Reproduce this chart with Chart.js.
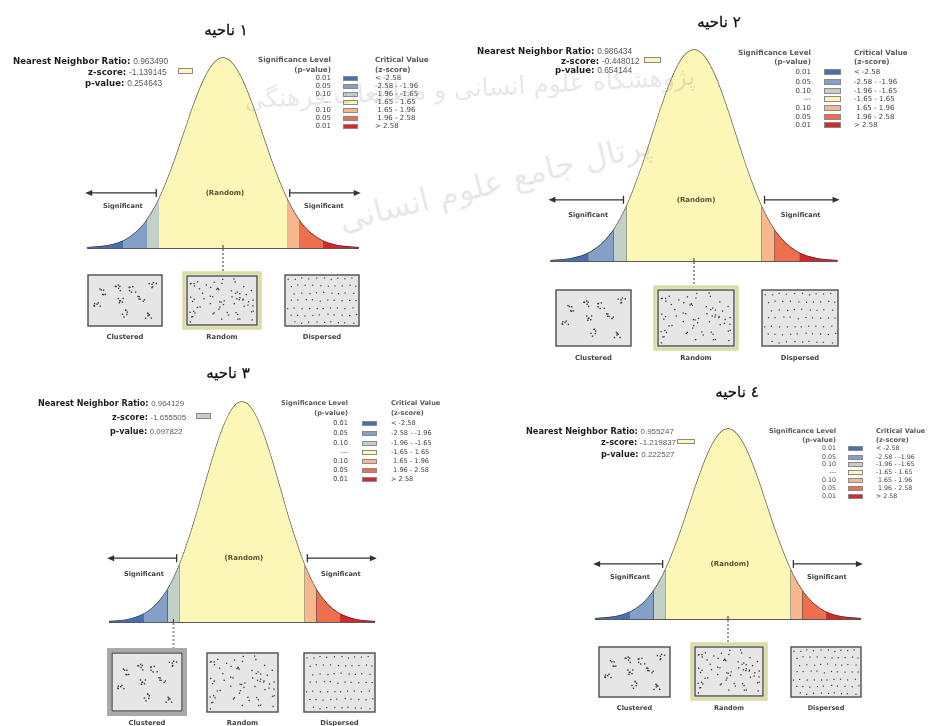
<!DOCTYPE html>
<html><head><meta charset="utf-8">
<script src="https://cdn.jsdelivr.net/npm/chart.js@4.4.1/dist/chart.umd.min.js"></script>
<style>
html,body{margin:0;padding:0;background:#fff}
#page{position:relative;width:928px;height:726px;overflow:hidden;font-family:"DejaVu Sans",sans-serif}
canvas{position:absolute}
.t{position:absolute;white-space:nowrap;line-height:1}
.ib{display:inline-block}
.sw{position:absolute;border:1px solid #8a8a8a;box-sizing:border-box}
.wm{position:absolute;white-space:nowrap;line-height:1;color:rgba(110,110,110,0.17);font-family:"DejaVu Sans",sans-serif;pointer-events:none}
</style></head><body><div id="page"></div>
<script>
function q(id){return document.getElementById(id)}

// ---- values ----
const regionTitles = ['ناحیه ١','ناحیه ٢','ناحیه ٣','ناحیه ٤'];
const nnRatios = ['0.963490','0.986434','0.964129','0.955247'];
const zScores = [-1.139145,-0.448012,-1.655505,-1.219837];
const zScoreText = ['-1.139145','-0.448012','-1.655505','-1.219837'];
const pValues = ['0.254643','0.654144','0.097822','0.222527'];

const sigLevels = ['0.01','0.05','0.10','---','0.10','0.05','0.01'];
const critValues = ['< -2.58','-2.58 - -1.96','-1.96 - -1.65','-1.65 - 1.65','\u00a01.65 - 1.96','\u00a01.96 - 2.58','> 2.58'];
const binEdges = [-3.5,-2.58,-1.96,-1.65,1.65,1.96,2.58,3.5];
const binColors = ['#4a6fb0','#85a0c8','#c3d0c8','#fcf7b6','#f8b78c','#ee6f4e','#d6272a'];
const patternNames = ['Clustered','Random','Dispersed'];

// curve (z-score, relative height) read from the bell shape
const curveZ = [-3.5,-3.25,-3,-2.75,-2.58,-2.5,-2.25,-2,-1.96,-1.8,-1.65,-1.5,-1.25,-1,-0.75,-0.5,-0.25,0,0.25,0.5,0.75,1,1.25,1.5,1.65,1.8,1.96,2,2.25,2.5,2.58,2.75,3,3.25,3.5];
const curveH = [0.002,0.005,0.011,0.023,0.036,0.044,0.080,0.135,0.146,0.198,0.256,0.325,0.458,0.607,0.755,0.882,0.969,1.000,0.969,0.882,0.755,0.607,0.458,0.325,0.256,0.198,0.146,0.135,0.080,0.044,0.036,0.023,0.011,0.005,0.002];

// ---- placement of each panel on the page ----
const layout = [
  {left:0,top:0,w:464,h:350, cx:223,unit:38.8,peakY:58,baseY:248,
   title:[226,30], statRows:[[13,61],[88,72],[85,83]], statSize:8.6, zbox:[178,69,15,6],
   legRight:331, critX:375, headY:[60,70], rowY:[78,86,94,102,110,118,126], swX:343, swW:15, swH:5, legSize:7, headSize:7.2,
   boxes:[[88,275,162,326],[187,276,257,325],[285,275,359,326]], labelY:337, labelSize:6.8},
  {left:464,top:0,w:464,h:362, cx:694,unit:41,peakY:50,baseY:261,
   title:[719,22], statRows:[[477,51],[561,61],[555,70]], statSize:8.6, zbox:[644,58,17,6],
   legRight:811, critX:854, headY:[53,62], rowY:[72,82,91,99,108,117,125], swX:824, swW:17, swH:6, legSize:7, headSize:7.2,
   boxes:[[556,290,631,346],[658,290,734,346],[762,290,838,346]], labelY:358, labelSize:6.8},
  {left:0,top:360,w:464,h:366, cx:242,unit:38,peakY:402,baseY:622,
   title:[228,373], statRows:[[38,403],[112,417],[110,431]], statSize:8.1, zbox:[196,414,15,6],
   legRight:348, critX:391, headY:[403,413], rowY:[423,433,443,452,461,470,479], swX:362, swW:15, swH:5, legSize:6.6, headSize:6.6,
   boxes:[[112,653,182,711],[207,653,278,712],[304,653,375,712]], labelY:723, labelSize:6.8},
  {left:464,top:360,w:464,h:366, cx:728,unit:38,peakY:429,baseY:619,
   title:[737,392], statRows:[[526,431],[601,442],[601,454]], statSize:8.2, zbox:[677,440,18,5],
   legRight:836, critX:876, headY:[431,440], rowY:[448,457,464,472,480,488,496], swX:848, swW:15, swH:5, legSize:6.3, headSize:6.6,
   boxes:[[599,647,670,697],[695,647,763,696],[791,647,861,697]], labelY:708, labelSize:6.5}
];

const page = q('page');

function binOf(z){
  for(let i=0;i<binColors.length;i++){ if(z>=binEdges[i] && z<binEdges[i+1]) return i; }
  return z<0 ? 0 : binColors.length-1;
}

function txt(x, y, html, css, anchor){
  const d = document.createElement('div'); d.className='t'; d.innerHTML = html;
  d.style.left = x+'px'; d.style.top = y+'px';
  const tx = anchor==='c' ? '-50%' : anchor==='r' ? '-100%' : '0';
  d.style.transform = `translate(${tx},-50%)`;
  Object.assign(d.style, css||{});
  page.appendChild(d);
  return d;
}

// small hash for the texture of the pattern icons
function hr(n){ const s = Math.sin(n*91.345+17.17)*47453.5453; return s-Math.floor(s); }
const clusterCenters = [[.15,.3],[.38,.18],[.62,.24],[.93,.1],[.45,.5],[.76,.46],[.08,.64],[.5,.82],[.88,.86]];

function drawBox(ctx,x,y,w,h,kind,hl,grayHl){
  if(hl){
    ctx.strokeStyle = grayHl ? '#a9a9a9' : '#d9dca6';
    ctx.lineWidth = grayHl ? 4 : 3.5;
    ctx.strokeRect(x-3,y-3,w+6,h+6);
  }
  ctx.fillStyle = '#e6e6e6'; ctx.fillRect(x,y,w,h);
  ctx.strokeStyle = '#4d4d4d'; ctx.lineWidth = 1.4; ctx.strokeRect(x,y,w,h);
  ctx.fillStyle = '#3c3c3c';
  const dot = (u,v,s)=>{ ctx.fillRect(x+u-s/2, y+v-s/2, s, s); };
  if(kind===0){
    clusterCenters.forEach((c,k)=>{
      for(let j=0;j<6;j++){
        const u = c[0]*(w-10)+5 + (hr(k*13+j*2)-0.5)*8;
        const v = c[1]*(h-10)+5 + (hr(k*13+j*2+1)-0.5)*7;
        dot(u,v,1.4);
      }
    });
  } else if(kind===1){
    for(let k=0;k<70;k++) dot(3+hr(k*2+301)*(w-6), 3+hr(k*2+302)*(h-6), 1.3);
  } else {
    for(let r=0;r<7;r++) for(let c=0;c<10;c++){
      const u = (c+0.5+(r%2?0.35:-0.15))*w/10.2 + (hr(r*17+c)-0.5)*2;
      const v = (r+0.5)*h/7 + (hr(r*17+c+500)-0.5)*2;
      if(u>2 && u<w-2) dot(u,v,1.2);
    }
  }
}

function drawArrow(ctx, xIn, xOut, y){
  const dir = Math.sign(xOut-xIn);
  ctx.beginPath(); ctx.moveTo(xIn,y); ctx.lineTo(xOut-dir*5,y); ctx.stroke();
  ctx.beginPath(); ctx.moveTo(xIn,y-4); ctx.lineTo(xIn,y+4); ctx.stroke();
  ctx.beginPath(); ctx.moveTo(xOut,y); ctx.lineTo(xOut-dir*7,y-3); ctx.lineTo(xOut-dir*7,y+3); ctx.closePath(); ctx.fill();
}

const decor = {
  id:'decor',
  afterDraw(chart, args, opts){
    const i = opts.panel, L = layout[i], ctx = chart.ctx;
    const X = v=>chart.scales.x.getPixelForValue(v), Y = v=>chart.scales.y.getPixelForValue(v);
    ctx.save();
    ctx.strokeStyle = '#333'; ctx.fillStyle = '#333'; ctx.lineWidth = 1.3;
    drawArrow(ctx, X(-1.72), X(-3.55), Y(0.29));
    drawArrow(ctx, X(1.72), X(3.55), Y(0.29));
    const b = binOf(zScores[i]);
    const pz = b===3 ? 0 : (binEdges[b]+binEdges[b+1])/2;
    const hi = b<3 ? 0 : (b===3 ? 1 : 2);
    const box = L.boxes[hi];
    ctx.setLineDash([2,2]); ctx.strokeStyle = '#9a9a9a'; ctx.lineWidth = 2;
    ctx.beginPath(); ctx.moveTo(X(pz), Y(0)+1); ctx.lineTo(X(pz), box[1]-L.top-4); ctx.stroke();
    ctx.setLineDash([]);
    ctx.strokeStyle = '#333'; ctx.lineWidth = 1;
    ctx.beginPath(); ctx.moveTo(X(pz), Y(0)-3); ctx.lineTo(X(pz), Y(0)); ctx.stroke();
    L.boxes.forEach((bx,k)=>drawBox(ctx, bx[0]-L.left, bx[1]-L.top, bx[2]-bx[0], bx[3]-bx[1], k, k===hi, hi===0));
    ctx.restore();
  }
};

function makeChart(i){
  const L = layout[i];
  const cv = document.createElement('canvas');
  cv.width = L.w; cv.height = L.h;
  cv.style.left = L.left+'px'; cv.style.top = L.top+'px';
  cv.style.width = L.w+'px'; cv.style.height = L.h+'px';
  page.appendChild(cv);
  const pad = {
    left: L.cx - 3.5*L.unit - L.left,
    right: L.left + L.w - (L.cx + 3.5*L.unit),
    top: L.peakY - L.top,
    bottom: L.top + L.h - L.baseY
  };
  const pts = curveZ.map((z,k)=>({x:z, y:curveH[k]}));
  const datasets = [];
  binColors.forEach((c,b)=>{
    datasets.push({
      data: pts.filter(p=>p.x>=binEdges[b]-1e-9 && p.x<=binEdges[b+1]+1e-9),
      backgroundColor:c, borderColor:c, borderWidth:0.5, fill:'origin', pointRadius:0,
      cubicInterpolationMode:'monotone', clip:false
    });
  });
  binEdges.slice(1,-1).forEach(z=>{
    datasets.push({data:[{x:z,y:0},{x:z,y:curveH[curveZ.indexOf(z)]}], borderColor:'#2e2e2e', borderWidth:1, pointRadius:0, fill:false, clip:false});
  });
  datasets.push({data:pts, borderColor:'#222', borderWidth:1.4, fill:false, pointRadius:0, cubicInterpolationMode:'monotone', clip:false});
  datasets.push({data:[{x:-3.5,y:0},{x:3.5,y:0}], borderColor:'#222', borderWidth:1.6, fill:false, pointRadius:0, clip:false});
  new Chart(cv, {
    type:'line',
    data:{datasets},
    options:{
      responsive:false, animation:false, events:[],
      layout:{padding:pad},
      scales:{
        x:{type:'linear', min:-3.5, max:3.5, display:false},
        y:{min:0, max:1, display:false}
      },
      plugins:{legend:{display:false}, tooltip:{enabled:false}, decor:{panel:i}}
    },
    plugins:[decor]
  });
}

function addTexts(i){
  const L = layout[i];
  const X = z=>L.cx + z*L.unit, Y = v=>L.baseY - v*(L.baseY-L.peakY);
  // panel title: word on the left, number on the right as in the report
  const parts = regionTitles[i].split(' ');
  txt(L.title[0], L.title[1], `<span class="ib" dir="rtl">${parts[0]}</span>&nbsp;<span class="ib">${parts[1]}</span>`,
      {fontSize:'15px', color:'#111', direction:'ltr', webkitTextStroke:'0.3px #111'}, 'c');
  // statistics
  const lbl = ['Nearest Neighbor Ratio:','z-score:','p-value:'];
  const vals = [nnRatios[i], zScoreText[i], pValues[i]];
  L.statRows.forEach((r,k)=>{
    txt(r[0], r[1], `<b style="color:#1e1e1e">${lbl[k]}</b> <span style="color:#5a5a5a;font-family:'Liberation Sans';font-size:${(L.statSize*0.98).toFixed(1)}px">${vals[k]}</span>`,
        {fontSize:L.statSize+'px'}, 'l');
  });
  const zb = document.createElement('div'); zb.className='sw';
  Object.assign(zb.style, {left:L.zbox[0]+'px', top:(L.zbox[1]-1)+'px', width:L.zbox[2]+'px', height:L.zbox[3]+'px', background:binColors[binOf(zScores[i])]});
  page.appendChild(zb);
  // legend
  const hs = {fontSize:L.headSize+'px', fontWeight:'bold', color:'#5a5a5a'};
  txt(L.legRight, L.headY[0], 'Significance Level', hs, 'r');
  txt(L.legRight, L.headY[1], '(p-value)', hs, 'r');
  txt(L.critX, L.headY[0], 'Critical Value', hs, 'l');
  txt(L.critX, L.headY[1], '(z-score)', hs, 'l');
  sigLevels.forEach((s,k)=>{
    const rs = {fontSize:L.legSize+'px', color:'#444'};
    txt(L.legRight, L.rowY[k], s, rs, 'r');
    txt(L.critX, L.rowY[k], critValues[k], rs, 'l');
    const sw = document.createElement('div'); sw.className='sw';
    Object.assign(sw.style, {left:L.swX+'px', top:(L.rowY[k]-L.swH/2)+'px', width:L.swW+'px', height:L.swH+'px', background:binColors[k]});
    page.appendChild(sw);
  });
  // region labels on the curve
  const ss = {fontSize:'6.6px', fontWeight:'bold', color:'#444'};
  txt(X(-2.58), Y(0.22), 'Significant', ss, 'c');
  txt(X(2.6), Y(0.22), 'Significant', ss, 'c');
  txt(X(0.05), Y(0.29), '(Random)', {fontSize:'7px', fontWeight:'bold', color:'#5b5330'}, 'c');
  // pattern labels
  L.boxes.forEach((bx,k)=>{
    txt((bx[0]+bx[2])/2, L.labelY, patternNames[k], {fontSize:L.labelSize+'px', fontWeight:'bold', color:'#444'}, 'c');
  });
}

function watermark(x, y, text, size, rot){
  const d = document.createElement('div'); d.className='wm'; d.dir='rtl'; d.textContent = text;
  Object.assign(d.style, {left:x+'px', top:y+'px', fontSize:size+'px', transform:`translate(-50%,-50%) rotate(${rot}deg)`});
  page.appendChild(d);
}

for(let i=0;i<4;i++){ makeChart(i); addTexts(i); }
watermark(470, 88, 'پژوهشگاه علوم انسانی و مطالعات فرهنگی', 25, -3);
watermark(495, 182, 'پرتال جامع علوم انسانی', 32, -14);
</script></body></html>
